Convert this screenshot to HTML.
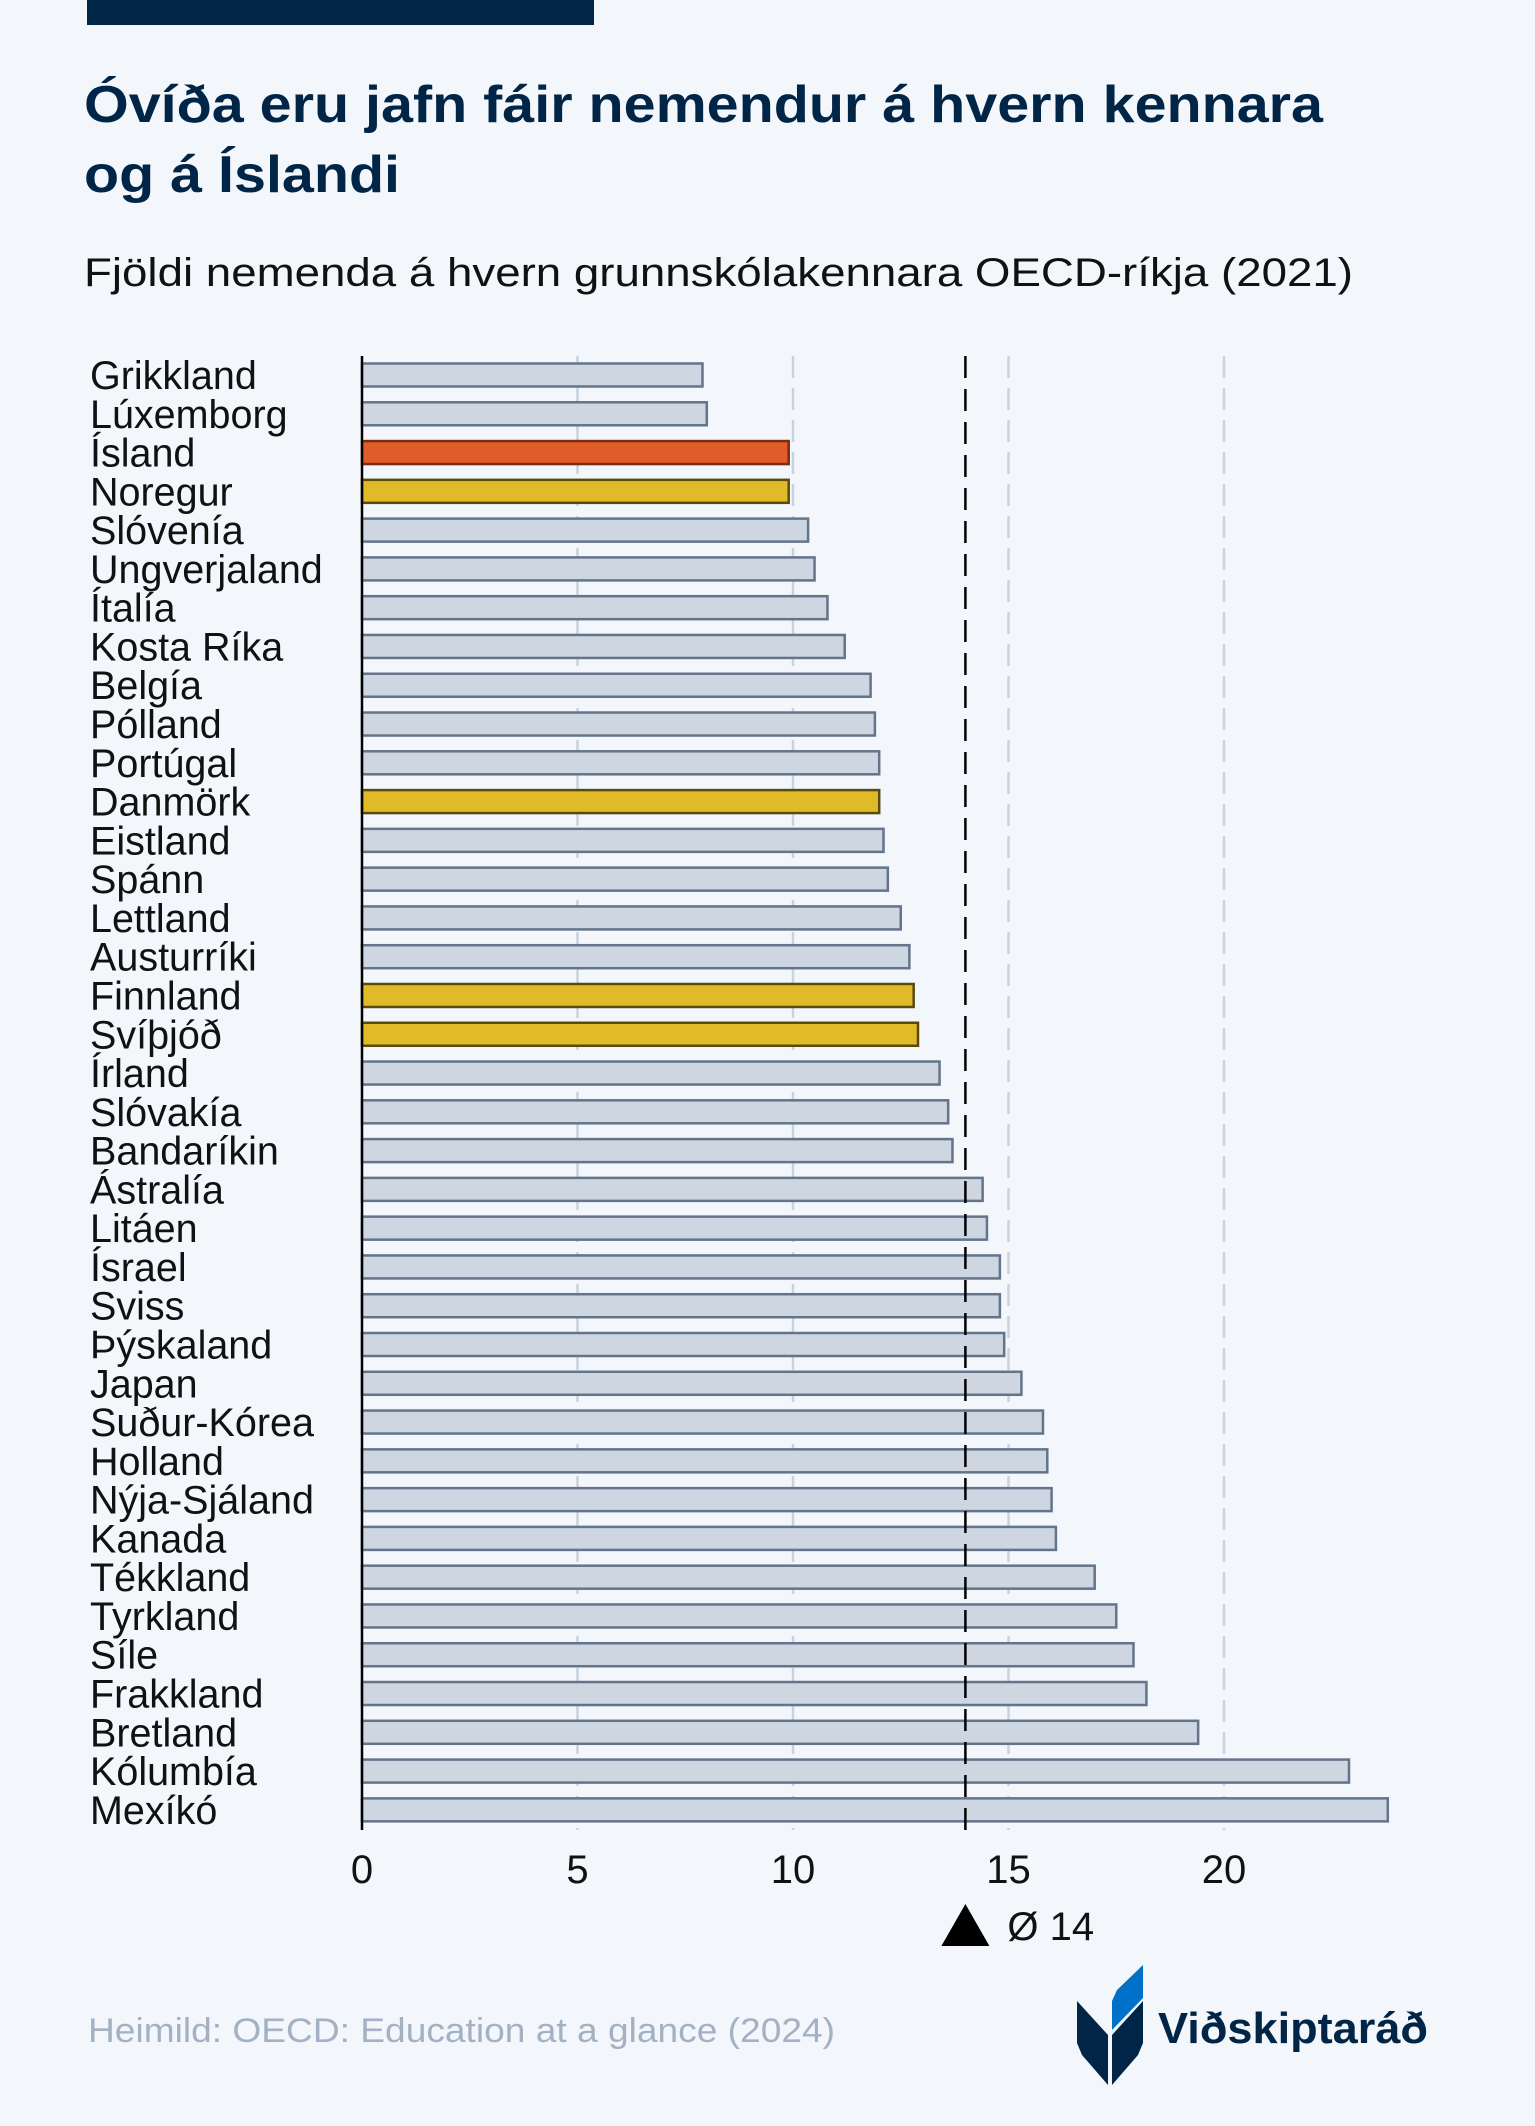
<!DOCTYPE html>
<html><head><meta charset="utf-8"><style>
html,body{margin:0;padding:0;background:#f3f6fb;}
svg{display:block;font-family:"Liberation Sans",sans-serif;}
</style></head><body>
<svg width="1535" height="2126" viewBox="0 0 1535 2126">
<rect x="0" y="0" width="1535" height="2126" fill="#f3f6fb"/>
<rect x="87" y="0" width="507" height="25" fill="#002546"/>
<text x="84" y="122" font-size="52" font-weight="bold" fill="#002546" textLength="1239" lengthAdjust="spacingAndGlyphs">Óvíða eru jafn fáir nemendur á hvern kennara</text>
<text x="84" y="192" font-size="52" font-weight="bold" fill="#002546" textLength="316" lengthAdjust="spacingAndGlyphs">og á Íslandi</text>
<text x="84" y="286" font-size="40" fill="#111" textLength="1269" lengthAdjust="spacingAndGlyphs">Fjöldi nemenda á hvern grunnskólakennara OECD-ríkja (2021)</text>
<g id="chart"></g>
<text x="88" y="2042" font-size="34" fill="#a3b1c4" textLength="747" lengthAdjust="spacingAndGlyphs">Heimild: OECD: Education at a glance (2024)</text>
<g>
<polygon points="1077,2001 1108,2035 1108,2085 1082,2055 1077,2043" fill="#002546"/>
<polygon points="1143,2001 1112,2035 1112,2085 1138,2055 1143,2043" fill="#002546"/>
<polygon points="1143,1965 1143,1998 1112,2030 1112,2001 1117,1990" fill="#0070c9"/>
<text x="1158" y="2043" font-size="44" font-weight="bold" fill="#002546" textLength="270" lengthAdjust="spacingAndGlyphs">Viðskiptaráð</text>
</g>
</svg>
<script>
const categories=["Grikkland","Lúxemborg","Ísland","Noregur","Slóvenía","Ungverjaland","Ítalía","Kosta Ríka","Belgía","Pólland","Portúgal","Danmörk","Eistland","Spánn","Lettland","Austurríki","Finnland","Svíþjóð","Írland","Slóvakía","Bandaríkin","Ástralía","Litáen","Ísrael","Sviss","Þýskaland","Japan","Suður-Kórea","Holland","Nýja-Sjáland","Kanada","Tékkland","Tyrkland","Síle","Frakkland","Bretland","Kólumbía","Mexíkó"];
const values=[7.9,8.0,9.9,9.9,10.35,10.5,10.8,11.2,11.8,11.9,12.0,12.0,12.1,12.2,12.5,12.7,12.8,12.9,13.4,13.6,13.7,14.4,14.5,14.8,14.8,14.9,15.3,15.8,15.9,16.0,16.1,17.0,17.5,17.9,18.2,19.4,22.9,23.8];
const highlight=["none","none","iceland","nordic","none","none","none","none","none","none","none","nordic","none","none","none","none","nordic","nordic","none","none","none","none","none","none","none","none","none","none","none","none","none","none","none","none","none","none","none","none"];
const ticks=[0,5,10,15,20];
const meanValue=14;
const meanLabel="Ø 14";

const NS="http://www.w3.org/2000/svg";
const g=document.getElementById('chart');
const x0=362,pxPerUnit=43.1,rowTop=362,rowPitch=38.78,barH=26;
const xs=v=>x0+v*pxPerUnit;
const ys=i=>rowTop+i*rowPitch;
function mk(tag,attrs){const e=document.createElementNS(NS,tag);for(const k in attrs)e.setAttribute(k,attrs[k]);g.appendChild(e);return e;}
const yTop=356,yBot=1830;
ticks.forEach(t=>{
  if(t>0){const l=mk('line',{x1:xs(t),x2:xs(t),y1:yTop,y2:yBot,stroke:'#c8d3e0','stroke-width':2.5,'stroke-dasharray':'22,10'});
  
  }
  const tx=mk('text',{x:xs(t),y:1883,'font-size':40,'text-anchor':'middle',fill:'#111'});
  tx.textContent=t;
  
  
});
const fills={none:['#cdd6e1','#64748b'],iceland:['#e05c28','#7a2b10'],nordic:['#e0bb27','#5a4a10']};
categories.forEach((c,i)=>{
  const f=fills[highlight[i]];
  const r=mk('rect',{x:x0,y:ys(i)+1.5,width:xs(values[i])-x0,height:barH-3,fill:f[0],stroke:f[1],'stroke-width':2.5});
  
  
  const t=mk('text',{x:90,y:ys(i)+27,'font-size':39.5,fill:'#111'});
  t.textContent=c;
  
  
});
const ml=mk('line',{x1:xs(meanValue),x2:xs(meanValue),y1:yTop,y2:yBot,stroke:'#000','stroke-width':2.5,'stroke-dasharray':'22,11'});


const ax=mk('line',{x1:x0,x2:x0,y1:yTop,y2:yBot,stroke:'#000','stroke-width':2.5});


const mx=xs(meanValue);
const tri=mk('polygon',{points:`${mx},1904 ${mx-24},1946 ${mx+24},1946`,fill:'#000'});


const mt=mk('text',{x:mx+42,y:1940,'font-size':40,fill:'#111'});
mt.textContent=meanLabel;


</script>
</body></html>
